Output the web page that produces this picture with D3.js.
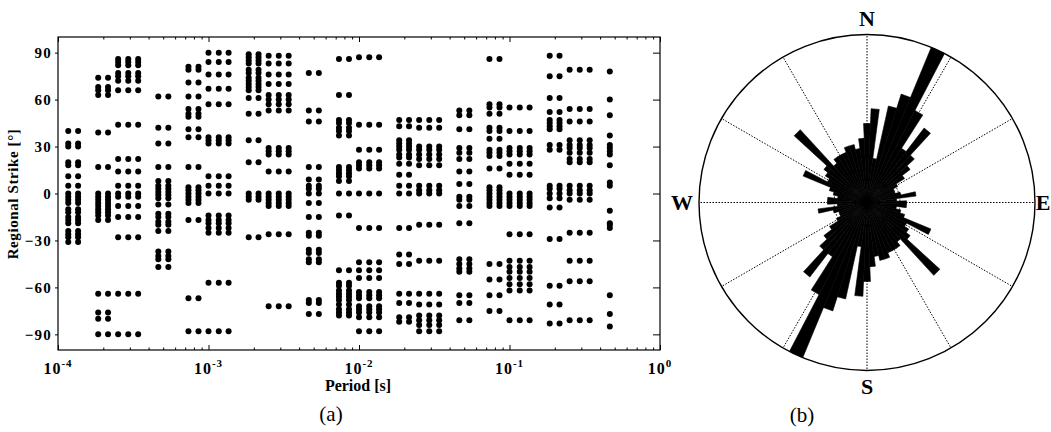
<!DOCTYPE html>
<html>
<head>
<meta charset="utf-8">
<script src="https://cdn.jsdelivr.net/npm/d3@7"></script>
<style>
  body { margin: 0; background: #fff; }
  text { font-family: "Liberation Serif", "Times New Roman", serif; fill: #000; }
</style>
</head>
<body>
<svg id="fig" width="1051" height="432"></svg>
<script>
// (a) period columns (s), grouped; every column of a group shares the group's strikes
const periodGroups = [
  [1.17e-4, 1.36e-4],
  [1.85e-4, 2.15e-4],
  [2.51e-4, 2.93e-4, 3.41e-4],
  [4.64e-4, 5.41e-4],
  [7.36e-4, 8.58e-4],
  [1.00e-3, 1.17e-3, 1.36e-3],
  [1.85e-3, 2.15e-3],
  [2.51e-3, 2.93e-3, 3.41e-3],
  [4.64e-3, 5.41e-3],
  [7.36e-3, 8.58e-3],
  [1.00e-2, 1.17e-2, 1.36e-2],
  [1.85e-2, 2.15e-2],
  [2.51e-2, 2.93e-2, 3.41e-2],
  [4.64e-2, 5.41e-2],
  [7.36e-2, 8.58e-2],
  [0.100, 0.117, 0.136],
  [0.185, 0.215],
  [0.251, 0.293, 0.341],
  [0.464]
];
// regional strike (deg) for each group
const strikeGroups = [
  [40, 32, 30, 20, 18, 11, 5, 0, -2, -4, -6, -10, -12, -15, -17, -19, -24, -26, -28, -31],
  [74, 68, 66, 63, 39, 17, 0, -2, -4, -6, -8, -10, -12, -14, -17, -64, -76, -80, -90],
  [86, 84, 82, 77, 75, 72, 66, 44, 22, 14, 5, 0, -2, -8, -15, -28, -64, -90],
  [62, 42, 32, 17, 8, 5, 3, 1, -1, -3, -7, -13, -15, -18, -20, -24, -37, -40, -42, -47],
  [81, 79, 71, 62, 54, 51, 49, 41, 36, 17, 4, 2, 0, -2, -4, -6, -17, -67, -88],
  [90, 84, 76, 67, 57, 36, 34, 32, 11, 5, 0, -14, -17, -19, -22, -25, -57, -88],
  [89, 87, 85, 83, 79, 77, 74, 72, 70, 68, 66, 61, 51, 34, 20, 0, -2, -4, -28],
  [88, 83, 76, 70, 63, 60, 57, 53, 29, 27, 25, 14, 0, -2, -4, -6, -8, -26, -72],
  [77, 53, 46, 17, 9, 5, 3, 0, -6, -15, -25, -27, -36, -38, -42, -44, -68, -70, -77],
  [86, 63, 47, 45, 42, 40, 37, 17, 15, 13, 11, 8, 0, -14, -49, -57, -59, -62, -64, -66, -68, -71, -74, -76, -78],
  [87, 44, 28, 20, 18, 16, 0, -22, -44, -49, -54, -63, -65, -67, -72, -74, -76, -79, -88],
  [47, 43, 34, 32, 30, 28, 25, 23, 19, 12, 5, 0, -22, -39, -45, -64, -70, -79, -82],
  [47, 42, 30, 28, 25, 22, 18, 5, 2, 0, -20, -43, -64, -71, -78, -81, -84, -88],
  [53, 50, 41, 29, 26, 22, 14, 6, -2, -4, -8, -19, -42, -45, -48, -50, -65, -70, -81],
  [86, 57, 55, 51, 42, 40, 35, 28, 26, 24, 16, 4, 2, 0, -2, -4, -6, -8, -45, -55, -65, -75],
  [55, 40, 29, 27, 25, 19, 12, 0, -2, -4, -6, -8, -26, -43, -47, -50, -54, -58, -62, -81],
  [88, 75, 61, 52, 47, 45, 43, 41, 31, 28, 5, 3, 0, -3, -9, -29, -59, -71, -83],
  [79, 54, 46, 34, 31, 29, 26, 22, 20, 5, 2, 0, -4, -25, -43, -56, -81],
  [78, 60, 50, 37, 31, 29, 27, 25, 18, 7, 5, -11, -19, -20, -22, -65, -77, -85]
];
const xMajor = [1e-4, 1e-3, 1e-2, 1e-1, 1];
const xExp = ["-4", "-3", "-2", "-1", "0"];
const yTicks = [90, 60, 30, 0, -30, -60, -90];

// (b) rose: bin centres 0..175 deg (5 deg bins), counts; the 180-355 half mirrors these
const roseAngles = [0, 5, 10, 15, 20, 25, 30, 35, 40, 45, 50, 55, 60, 65, 70, 75, 80, 85,
  90, 95, 100, 105, 110, 115, 120, 125, 130, 135, 140, 145, 150, 155, 160, 165, 170, 175];
const roseCounts = [16, 19, 9, 20, 23, 34, 21, 13, 19, 13, 11, 9, 7, 6, 6, 7, 10, 6,
  8, 8, 6, 7, 8, 14, 9, 10, 11, 20, 10, 11, 11, 11, 12, 12, 11, 13];
const compass = [["N", 0], ["E", 90], ["S", 180], ["W", 270]];

const svg = d3.select("#fig");
svg.append("rect").attr("width", 1051).attr("height", 432).attr("fill", "#fff");

// ---------- (a) scatter ----------
const PL = 58, PR = 660, PT = 37, PB = 350;
const x = d3.scaleLog().domain([1e-4, 1]).range([PL, PR]);
const y = d3.scaleLinear().domain([-100, 100]).range([PB, PT]);

const xMinor = x.ticks().filter(v => !xMajor.some(m => Math.abs(m - v) / m < 1e-6));

function noDomain(g) { g.select(".domain").remove(); g.selectAll("text").remove(); }

svg.append("g").attr("transform", `translate(0,${PB})`)
  .call(d3.axisBottom(x).tickValues(xMajor).tickSize(-5).tickFormat("")).call(noDomain);
svg.append("g").attr("transform", `translate(0,${PB})`)
  .call(d3.axisBottom(x).tickValues(xMinor).tickSize(-2.5).tickFormat("")).call(noDomain);
svg.append("g").attr("transform", `translate(0,${PT})`)
  .call(d3.axisTop(x).tickValues(xMajor).tickSize(-5).tickFormat("")).call(noDomain);
svg.append("g").attr("transform", `translate(0,${PT})`)
  .call(d3.axisTop(x).tickValues(xMinor).tickSize(-2.5).tickFormat("")).call(noDomain);
svg.append("g").attr("transform", `translate(${PR},0)`)
  .call(d3.axisRight(y).tickValues(yTicks).tickSize(-7).tickFormat("")).call(noDomain);

const yAxis = svg.append("g").attr("transform", `translate(${PL},0)`)
  .call(d3.axisLeft(y).tickValues(yTicks).tickSize(3).tickPadding(3));
yAxis.select(".domain").remove();
yAxis.selectAll("text")
  .style("font-family", '"Liberation Serif", serif')
  .style("font-size", "15px").style("font-weight", "bold")
  .style("letter-spacing", "1.2px");
svg.selectAll(".tick line").attr("stroke", "#000");

svg.append("rect").attr("x", PL).attr("y", PT)
  .attr("width", PR - PL).attr("height", PB - PT)
  .attr("fill", "none").attr("stroke", "#000").attr("stroke-width", 1.2);

// x tick labels 10^n
const xl = svg.append("g").selectAll("text").data(xMajor).enter().append("text")
  .attr("x", d => x(d)).attr("y", 374)
  .attr("text-anchor", "middle")
  .style("font-size", "16px").style("font-weight", "bold").style("letter-spacing", "1px");
xl.append("tspan").text("10");
xl.append("tspan").attr("dy", -7).style("font-size", "11px")
  .text((d, i) => xExp[i]);

const points = [];
periodGroups.forEach((ps, gi) => ps.forEach(p => strikeGroups[gi].forEach(s => points.push([p, s]))));

svg.append("g").selectAll("circle").data(points).enter().append("circle")
  .attr("cx", d => x(d[0])).attr("cy", d => y(d[1]))
  .attr("r", 3).attr("fill", "#000");

svg.append("text").attr("transform", "translate(18,194) rotate(-90)")
  .attr("text-anchor", "middle")
  .style("font-size", "15px").style("font-weight", "bold").style("letter-spacing", "0.6px")
  .text("Regional Strike [°]");
svg.append("text").attr("x", 358).attr("y", 391).attr("text-anchor", "middle")
  .style("font-size", "16px").style("font-weight", "bold")
  .text("Period [s]");
svg.append("text").attr("x", 331).attr("y", 421).attr("text-anchor", "middle")
  .style("font-size", "21px").text("(a)");

// ---------- (b) rose ----------
const CX = 867, CY = 202.5, R = 168;
const rr = d3.scaleLinear().domain([0, 34]).range([0, R]);
const rad = d => d * Math.PI / 180;
const rose = svg.append("g").attr("transform", `translate(${CX},${CY})`);

rose.append("circle").attr("r", 33).attr("fill", "none")
  .attr("stroke", "#000").attr("stroke-width", 1).attr("stroke-dasharray", "1.5,1.5");
rose.selectAll("line.spoke").data(d3.range(0, 360, 30)).enter().append("line")
  .attr("class", "spoke")
  .attr("x1", 0).attr("y1", 0)
  .attr("x2", d => R * Math.sin(rad(d))).attr("y2", d => -R * Math.cos(rad(d)))
  .attr("stroke", "#000").attr("stroke-width", 1).attr("stroke-dasharray", "1.5,1.5");

const bins = [];
roseAngles.forEach((a, i) => { bins.push([a, roseCounts[i]]); bins.push([a + 180, roseCounts[i]]); });
const wedge = d3.lineRadial().angle(d => d[0]).radius(d => d[1]).curve(d3.curveLinearClosed);
rose.selectAll("path.bin").data(bins).enter().append("path")
  .attr("class", "bin")
  .attr("d", d => wedge([[0, 0], [rad(d[0] - 2.5), rr(d[1])], [rad(d[0] + 2.5), rr(d[1])]]))
  .attr("fill", "#000").attr("stroke", "#000").attr("stroke-width", 0.6);

rose.append("circle").attr("r", R).attr("fill", "none")
  .attr("stroke", "#000").attr("stroke-width", 1.4);

// compass letters; E sits against the right edge as in the original
const cmpR = { N: 16, E: 176, S: 16, W: 16 };
rose.selectAll("text.cmp").data(compass).enter().append("text")
  .attr("class", "cmp")
  .attr("x", d => d[0] === "E" ? cmpR.E : (R + 17) * Math.sin(rad(d[1])))
  .attr("y", d => -(R + cmpR[d[0]]) * Math.cos(rad(d[1])))
  .attr("dy", "0.35em").attr("text-anchor", "middle")
  .style("font-size", "22px").style("font-weight", "bold")
  .text(d => d[0]);

svg.append("text").attr("x", 802).attr("y", 422).attr("text-anchor", "middle")
  .style("font-size", "21px").text("(b)");
</script>
</body>
</html>
